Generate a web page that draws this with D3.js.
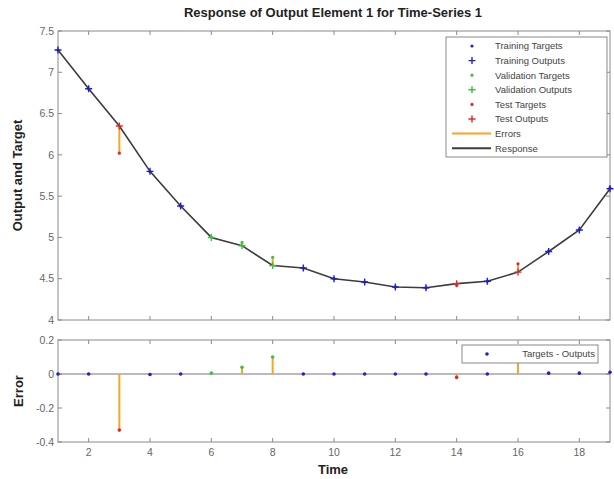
<!DOCTYPE html>
<html>
<head>
<meta charset="utf-8">
<title>Response of Output Element 1</title>
<script src="https://cdn.jsdelivr.net/npm/d3@7"></script>
<style>
body { margin: 0; background: #fff; }
text { font-family: "Liberation Sans", Arial, sans-serif; }
</style>
</head>
<body>
<svg id="chart" width="614" height="479"></svg>
<script>
// time steps and which set each belongs to
const times = [1,2,3,4,5,6,7,8,9,10,11,12,13,14,15,16,17,18,19];
const sets  = ["train","train","test","train","train","val","val","val","train","train",
               "train","train","train","test","train","test","train","train","train"];
const targets = [7.27,6.80,6.02,5.797,5.38,5.005,4.94,4.76,4.63,4.50,4.46,4.40,4.39,4.42,4.47,4.68,4.835,5.095,5.60];
const outputs = [7.27,6.80,6.35,5.80,5.38,5.00,4.90,4.66,4.63,4.50,4.46,4.40,4.39,4.44,4.47,4.58,4.83,5.09,5.59];
const errors = targets.map((t, i) => t - outputs[i]);

const xTicks = [2,4,6,8,10,12,14,16,18];
const yTicksTop = [4,4.5,5,5.5,6,6.5,7,7.5];
const yTicksBot = [-0.4,-0.2,0,0.2];

const legendTop = [
  {label: "Training Targets", kind: "dot", set: "train"},
  {label: "Training Outputs", kind: "plus", set: "train"},
  {label: "Validation Targets", kind: "dot", set: "val"},
  {label: "Validation Outputs", kind: "plus", set: "val"},
  {label: "Test Targets", kind: "dot", set: "test"},
  {label: "Test Outputs", kind: "plus", set: "test"},
  {label: "Errors", kind: "line", color: "#f5a623"},
  {label: "Response", kind: "line", color: "#3c3c3c"}
];

const colors = {train: "#2020c8", val: "#40c040", test: "#e02828"};
const errColor = "#f5a623";
const frameColor = "#8a8a8a";
const tickColor = "#666";

const svg = d3.select("#chart");
const left = 58, right = 610;
const top1 = 31, bot1 = 320;
const top2 = 340, bot2 = 442;

const x = d3.scaleLinear().domain([1, 19]).range([left, right]);
const y1 = d3.scaleLinear().domain([4, 7.5]).range([bot1, top1]);
const y2 = d3.scaleLinear().domain([-0.4, 0.2]).range([bot2, top2]);

function frame(y, top, bot, yTicks, yFmt, showX) {
  const g = svg.append("g");
  g.append("rect").attr("x", left).attr("y", top).attr("width", right - left).attr("height", bot - top)
    .attr("fill", "#fff").attr("stroke", frameColor).attr("stroke-width", 1);
  // inward ticks on all four sides
  xTicks.forEach(t => {
    g.append("line").attr("x1", x(t)).attr("x2", x(t)).attr("y1", bot).attr("y2", bot - 4).attr("stroke", frameColor);
    g.append("line").attr("x1", x(t)).attr("x2", x(t)).attr("y1", top).attr("y2", top + 4).attr("stroke", frameColor);
  });
  yTicks.forEach(t => {
    g.append("line").attr("x1", left).attr("x2", left + 4).attr("y1", y(t)).attr("y2", y(t)).attr("stroke", frameColor);
    g.append("line").attr("x1", right).attr("x2", right - 4).attr("y1", y(t)).attr("y2", y(t)).attr("stroke", frameColor);
    g.append("text").attr("x", left - 4).attr("y", y(t)).attr("dy", "0.35em").attr("text-anchor", "end")
      .attr("font-size", 10.5).attr("fill", tickColor).text(yFmt(t));
  });
  if (showX) {
    xTicks.forEach(t => {
      g.append("text").attr("x", x(t)).attr("y", bot + 14).attr("text-anchor", "middle")
        .attr("font-size", 10.5).attr("fill", tickColor).text(t);
    });
  }
}

frame(y1, top1, bot1, yTicksTop, d => d, false);
frame(y2, top2, bot2, yTicksBot, d => d === 0 ? "0" : d.toFixed(1), true);

function plus(g, cx, cy, c, s) {
  g.append("path").attr("d", `M${cx - s},${cy}H${cx + s}M${cx},${cy - s}V${cy + s}`)
    .attr("stroke", c).attr("stroke-width", 1.4);
}

// ---- top plot ----
const gt = svg.append("g");
// error bars
times.forEach((t, i) => {
  gt.append("line").attr("x1", x(t)).attr("x2", x(t)).attr("y1", y1(targets[i])).attr("y2", y1(outputs[i]))
    .attr("stroke", errColor).attr("stroke-width", 2);
});
// response line
gt.append("path").datum(times)
  .attr("fill", "none").attr("stroke", "#3c3c3c").attr("stroke-width", 1.6)
  .attr("d", d3.line().x(t => x(t)).y((t, i) => y1(outputs[i])));
// outputs (+) and targets (dots)
times.forEach((t, i) => {
  plus(gt, x(t), y1(outputs[i]), colors[sets[i]], 3.5);
  gt.append("circle").attr("cx", x(t)).attr("cy", y1(targets[i])).attr("r", 1.6).attr("fill", colors[sets[i]]);
});

// legend top
const lx = 446, ly = 37, lw = 161, lh = 120;
gt.append("rect").attr("x", lx).attr("y", ly).attr("width", lw).attr("height", lh)
  .attr("fill", "#fff").attr("stroke", frameColor);
legendTop.forEach((d, i) => {
  const yy = ly + 9 + i * 14.6;
  if (d.kind === "dot") gt.append("circle").attr("cx", 472).attr("cy", yy).attr("r", 1.6).attr("fill", colors[d.set]);
  if (d.kind === "plus") plus(gt, 472, yy, colors[d.set], 3.5);
  if (d.kind === "line") gt.append("line").attr("x1", 452).attr("x2", 491).attr("y1", yy).attr("y2", yy)
    .attr("stroke", d.color).attr("stroke-width", 2);
  gt.append("text").attr("x", 495).attr("y", yy).attr("dy", "0.35em").attr("font-size", 9.5)
    .attr("fill", "#444").text(d.label);
});

// ---- error plot ----
const gb = svg.append("g");
gb.append("line").attr("x1", left).attr("x2", right).attr("y1", y2(0)).attr("y2", y2(0))
  .attr("stroke", "#777").attr("stroke-width", 1);
times.forEach((t, i) => {
  gb.append("line").attr("x1", x(t)).attr("x2", x(t)).attr("y1", y2(0)).attr("y2", y2(errors[i]))
    .attr("stroke", errColor).attr("stroke-width", 2);
});
times.forEach((t, i) => {
  gb.append("circle").attr("cx", x(t)).attr("cy", y2(errors[i])).attr("r", 1.8).attr("fill", colors[sets[i]]);
});
gb.append("rect").attr("x", 462).attr("y", 345).attr("width", 136).attr("height", 18)
  .attr("fill", "#fff").attr("stroke", frameColor);
gb.append("circle").attr("cx", 487).attr("cy", 354).attr("r", 1.8).attr("fill", colors.train);
gb.append("text").attr("x", 595).attr("y", 354).attr("dy", "0.35em").attr("text-anchor", "end")
  .attr("font-size", 9.5).attr("fill", "#444").text("Targets - Outputs");

// ---- titles ----
svg.append("text").attr("x", 333).attr("y", 17).attr("text-anchor", "middle")
  .attr("font-size", 13).attr("font-weight", "bold").attr("fill", "#222")
  .text("Response of Output Element 1 for Time-Series 1");
svg.append("text").attr("transform", `translate(22,${(top1 + bot1) / 2}) rotate(-90)`)
  .attr("text-anchor", "middle").attr("font-size", 13).attr("font-weight", "bold").attr("fill", "#222")
  .text("Output and Target");
svg.append("text").attr("transform", `translate(23,${(top2 + bot2) / 2}) rotate(-90)`)
  .attr("text-anchor", "middle").attr("font-size", 13).attr("font-weight", "bold").attr("fill", "#222")
  .text("Error");
svg.append("text").attr("x", 333).attr("y", 474).attr("text-anchor", "middle")
  .attr("font-size", 13).attr("font-weight", "bold").attr("fill", "#222").text("Time");
</script>
</body>
</html>
